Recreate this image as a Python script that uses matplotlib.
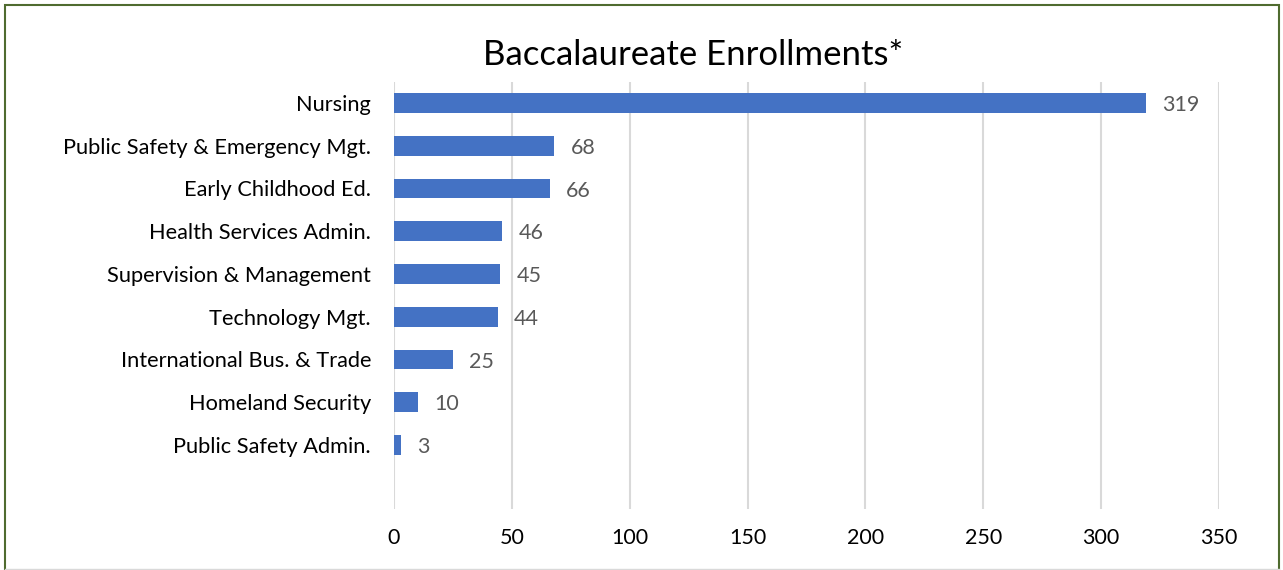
import matplotlib
matplotlib.use("Agg")
import matplotlib.pyplot as plt
from matplotlib.patches import Rectangle
from matplotlib.lines import Line2D

categories = ["Nursing", "Public Safety & Emergency Mgt.", "Early Childhood Ed.",
              "Health Services Admin.", "Supervision & Management", "Technology Mgt.",
              "International Bus. & Trade", "Homeland Security", "Public Safety Admin."]
values = [319, 68, 66, 46, 45, 44, 25, 10, 3]
xticks = [0, 50, 100, 150, 200, 250, 300, 350]
title = "Baccalaureate Enrollments*"

plt.rcParams['font.family'] = ['Lato', 'DejaVu Sans']

W, H = 1283, 570
fig = plt.figure(figsize=(W / 100, H / 100), dpi=100)
fig.patch.set_facecolor("white")

left, right, top, bottom = 394, 1219, 81.6, 509
ax = fig.add_axes([left / W, 1 - bottom / H, (right - left) / W, (bottom - top) / H])

n = len(categories)
pos = [n - 1 - i for i in range(n)]
ax.barh(pos, values, height=0.46, color="#4472C4", zorder=3)
for p, v in zip(pos, values):
    ax.text(v + 7, p - 0.05, str(v), va="center", ha="left", fontsize=15.5, color="#595959")

ax.set_xlim(0, 350)
ax.set_ylim(-1.5, n - 0.5)
ax.set_yticks(pos)
ax.set_yticklabels(categories, fontsize=15.7, color="#000000")
ax.set_xticks(xticks)
ax.set_xticklabels([str(t) for t in xticks], fontsize=15.5, color="#000000")
ax.tick_params(axis="both", length=0)
ax.tick_params(axis="y", pad=16.5)
ax.tick_params(axis="x", pad=14)
ax.grid(axis="x", color="#D9D9D9", linewidth=1.5, zorder=0)
for s in ax.spines.values():
    s.set_visible(False)

fig.text(693 / W, 1 - 55 / H, title, ha="center", va="center", fontsize=25, color="#000000")

fig.patches.append(Rectangle((4.5 / W, -10 / H), (1279 - 4.5) / W, (565.5 + 10) / H,
                             transform=fig.transFigure, fill=False,
                             edgecolor="#4F6B2F", linewidth=1.5))
fig.lines.append(Line2D([4.5 / W, 1279 / W], [1 - 568.5 / H, 1 - 568.5 / H],
                        transform=fig.transFigure, color="#D9D9D9", linewidth=1))

fig.savefig("out.png", dpi=100)
